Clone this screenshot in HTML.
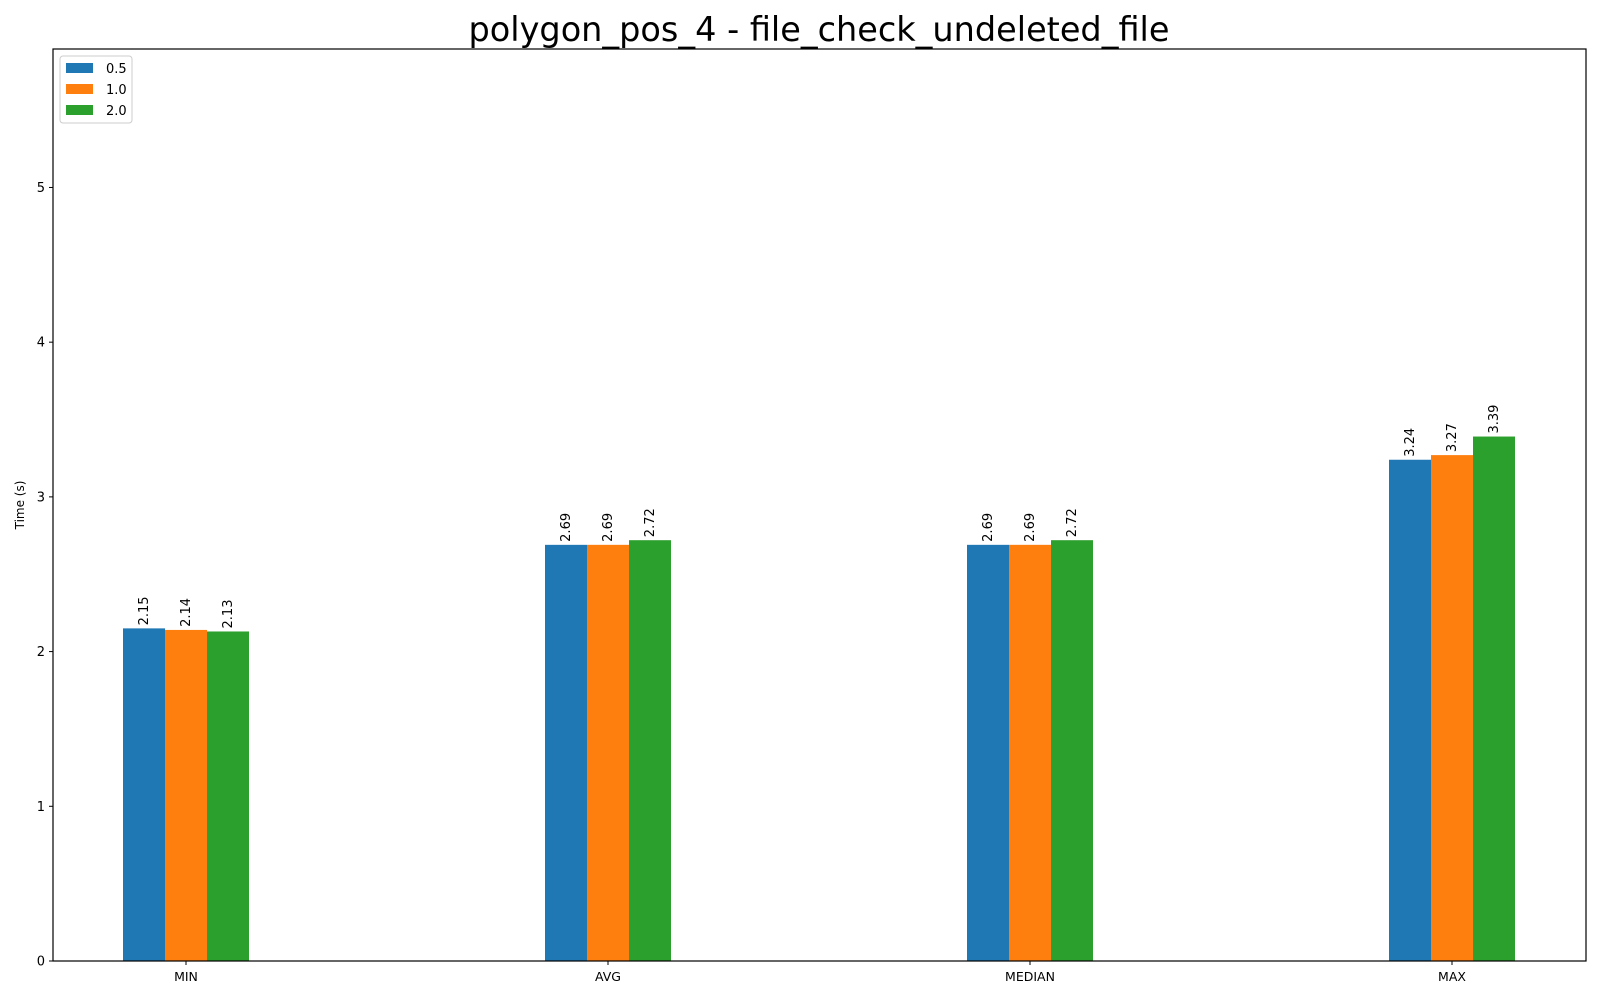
<!DOCTYPE html>
<html><head><meta charset="utf-8"><style>
body{margin:0;background:#fff;}
svg text{font-family:"DejaVu Sans","Liberation Sans",sans-serif;}
</style></head><body>
<svg id="chart" width="1600" height="1000" xmlns="http://www.w3.org/2000/svg">
<rect width="1600" height="1000" fill="#fff"/>
<text x="819" y="41" font-size="33.5" text-anchor="middle">polygon_pos_4 - file_check_undeleted_file</text>
<text transform="translate(24,505) rotate(-90)" font-size="12" text-anchor="middle">Time (s)</text>
<g id="marks"></g>
<rect x="53" y="49" width="1533" height="912" fill="none" stroke="#000" stroke-width="1.2"/>
<g id="axes"></g>
<g>
<rect x="60" y="56" width="72" height="67" rx="3" fill="#fff" stroke="#ccc"/>
<rect x="66" y="63" width="27" height="10" fill="#1f77b4"/>
<text x="106" y="73" font-size="13">0.5</text>
<rect x="66" y="84" width="27" height="10" fill="#ff7f0e"/>
<text x="106" y="94" font-size="13">1.0</text>
<rect x="66" y="105" width="27" height="10" fill="#2ca02c"/>
<text x="106" y="115" font-size="13">2.0</text>
</g>
</svg>
<script>
const categories=["MIN","AVG","MEDIAN","MAX"];
const seriesNames=["0.5","1.0","2.0"];
const s05=[2.15,2.69,2.69,3.24];
const s10=[2.14,2.69,2.69,3.27];
const s20=[2.13,2.72,2.72,3.39];
const yTicks=[0,1,2,3,4,5];
const series=[s05,s10,s20];
const colors=["#1f77b4","#ff7f0e","#2ca02c"];
const NS="http://www.w3.org/2000/svg";
const x0=186,step=422,bw=42,yBase=961,yMax=5.895,plotH=912;
const xc=i=>x0+i*step;
const y=v=>yBase-v/yMax*plotH;
const marks=document.getElementById('marks'),axes=document.getElementById('axes');
function mk(t,a,p){const e=document.createElementNS(NS,t);for(const k in a)e.setAttribute(k,a[k]);p.appendChild(e);return e;}
series.forEach((s,si)=>{s.forEach((v,ci)=>{
 const x=xc(ci)+(si-1)*bw-bw/2;
 const r=mk('rect',{x:x,y:y(v),width:bw,height:yBase-y(v),fill:colors[si]},marks);
 
 
 const cx=x+bw/2+4,cy=y(v)-3;
 const t=mk('text',{transform:`translate(${cx},${cy}) rotate(-90)`,'font-size':13},marks);
 t.textContent=v.toFixed(2);
 
 
});});
yTicks.forEach(v=>{
 const l=mk('line',{x1:49,x2:53,y1:y(v),y2:y(v),stroke:'#000'},axes);
 
 
 const t=mk('text',{x:45,y:y(v)+4.5,'font-size':13,'text-anchor':'end'},axes);
 t.textContent=v;
 
 
});
categories.forEach((c,i)=>{
 const l=mk('line',{x1:xc(i),x2:xc(i),y1:961,y2:965,stroke:'#000'},axes);
 
 
 const t=mk('text',{x:xc(i),y:981,'font-size':12.5,'text-anchor':'middle'},axes);
 t.textContent=c;
 
 
});
</script>
</body></html>
